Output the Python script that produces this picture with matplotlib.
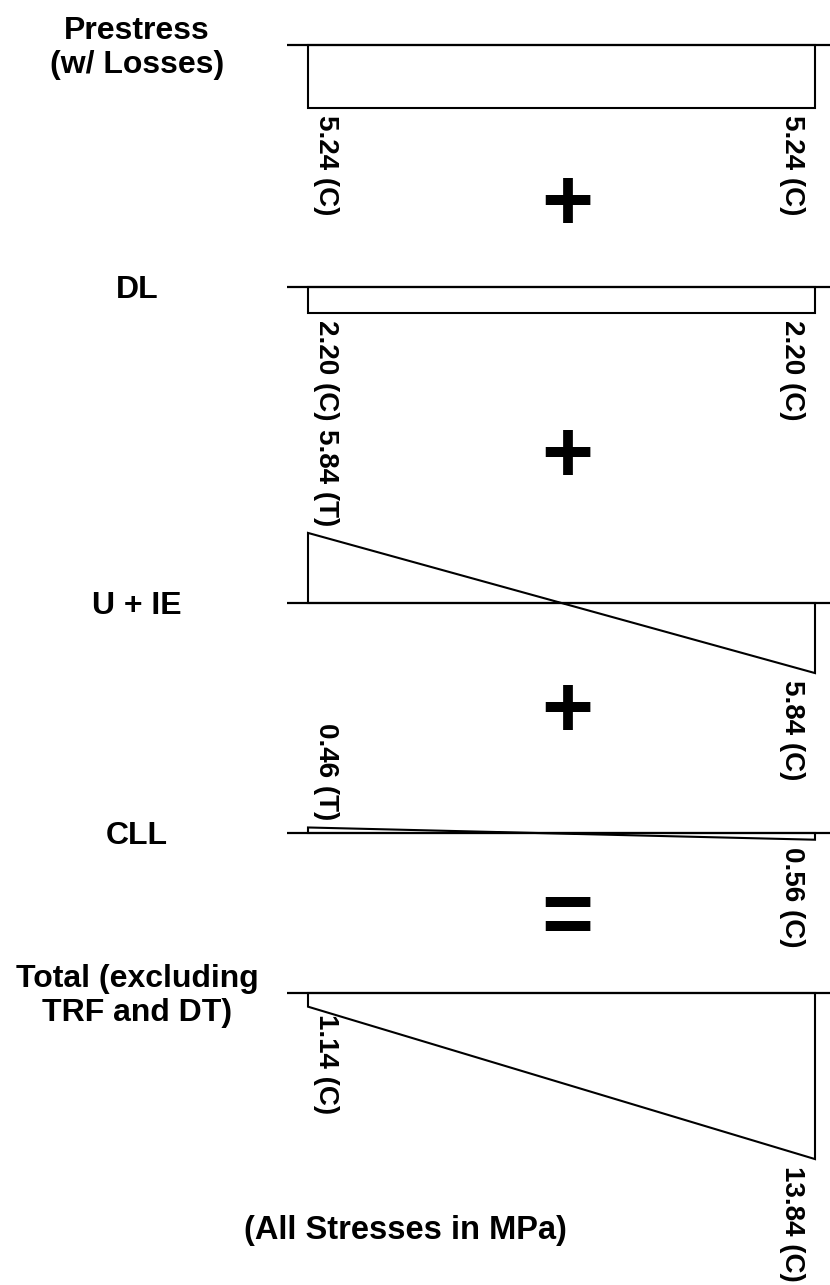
import matplotlib.pyplot as plt
from matplotlib.patches import Polygon

plt.rcParams['font.family'] = ['Liberation Sans', 'DejaVu Sans']
plt.rcParams['font.weight'] = 'bold'

# stresses in MPa (tension +, compression -), left and right end of the section
names = ['Prestress\n(w/ Losses)', 'DL', 'U + IE', 'CLL', 'Total (excluding\nTRF and DT)']
left_stress = [-5.24, -2.20, 5.84, 0.46, -1.14]
right_stress = [-5.24, -2.20, -5.84, -0.56, -13.84]
left_text = ['5.24 (C)', '2.20 (C)', '5.84 (T)', '0.46 (T)', '1.14 (C)']
right_text = ['5.24 (C)', '2.20 (C)', '5.84 (C)', '0.56 (C)', '13.84 (C)']
signs = ['+', '+', '+', '=']
note = '(All Stresses in MPa)'

# layout (pixels)
W, H = 830, 1285
row_y = [45, 287, 603, 833, 993]
sign_y = [207, 459, 714, 921]
px_per_mpa = 12.0
x_line, x0, x1 = 287, 308, 815
pt = 72 / 100  # points per pixel

fig = plt.figure(figsize=(W / 100, H / 100), dpi=100)

for i in range(len(names)):
    y0 = row_y[i]
    ax = fig.add_axes([x_line / W, 0, 1 - x_line / W, 1])
    ax.set_xlim((x_line - x0) / (x1 - x0), (W - x0) / (x1 - x0))
    ax.set_ylim((y0 - H) / px_per_mpa, y0 / px_per_mpa)
    ax.axis('off')
    ax.patch.set_alpha(0)
    ax.axhline(0, color='black', lw=1.6)
    l, r = left_stress[i], right_stress[i]
    ax.add_patch(Polygon([(0, 0), (0, l), (1, r), (1, 0)], closed=True,
                         fill=False, ec='black', lw=1.5, joinstyle='miter'))
    for x, s, txt, dx, ha in [(0, l, left_text[i], 5, 'left'),
                              (1, r, right_text[i], -10, 'right')]:
        up = s > 0
        ax.annotate(txt, (x, s), xytext=(dx * pt, (7 if up else -7) * pt),
                    textcoords='offset points', rotation=-90, ha=ha,
                    va='bottom' if up else 'top', fontsize=20)
    fig.text(137 / W, 1 - (y0 + 3) / H, names[i], ha='center', va='center',
             fontsize=23, multialignment='center')

for s, y in zip(signs, sign_y):
    fig.text(567 / W, 1 - y / H, s, ha='center', va='center', fontsize=64)

fig.text(405 / W, 1 - 1230 / H, note, ha='center', va='center', fontsize=23.5)

fig.savefig('out.png', dpi=100)
